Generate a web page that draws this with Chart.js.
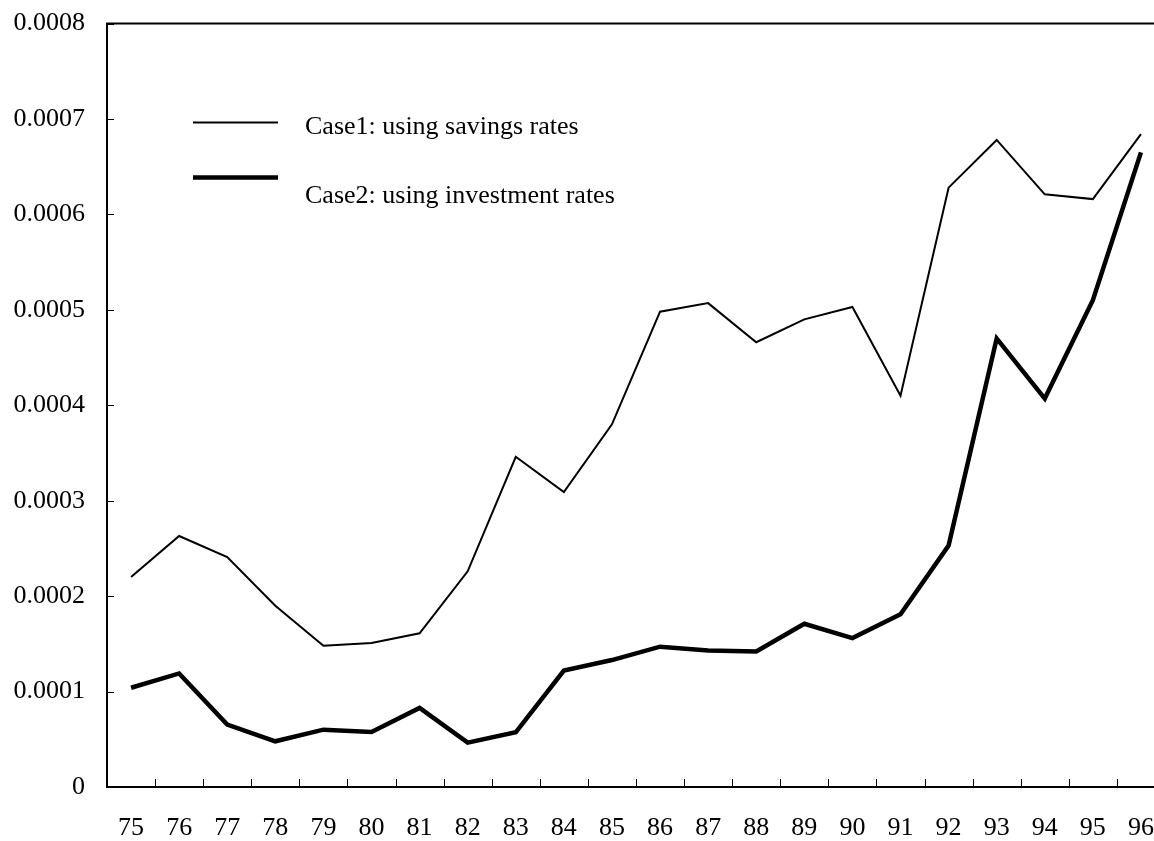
<!DOCTYPE html>
<html>
<head>
<meta charset="utf-8">
<script src="https://cdn.jsdelivr.net/npm/chart.js@4/dist/chart.umd.min.js"></script>
<style>
  html, body { margin: 0; padding: 0; overflow: hidden; background: #fff; }
  #wrap { width: 1166px; height: 841px; }
</style>
</head>
<body>
<div id="wrap"><canvas id="rateChart" width="1166" height="841"></canvas></div>
<script>
// anos (75..96)
const years = ['75','76','77','78','79','80','81','82','83','84','85','86','87','88','89','90','91','92','93','94','95','96'];

// Case1: taxas de poupanca
const savingsCase = [0.000220, 0.000263, 0.000241, 0.000190, 0.000148, 0.000151, 0.000161, 0.000226, 0.000346, 0.000309, 0.000380,
    0.000498, 0.000507, 0.000466, 0.000490, 0.000503, 0.000410, 0.000628, 0.000678, 0.000621, 0.000616, 0.000684];

// Case2: taxas de investimento
const investmentCase = [0.000104, 0.000119, 0.0000654, 0.0000479, 0.0000601, 0.0000577, 0.0000828, 0.0000465, 0.0000573, 0.000122, 0.000133,
    0.000147, 0.000143, 0.000142, 0.000171, 0.000156, 0.000181, 0.000253, 0.000470, 0.000407, 0.000510, 0.000665];

const yTickLabels = ['0', '0.0001', '0.0002', '0.0003', '0.0004', '0.0005', '0.0006', '0.0007', '0.0008'];

const serif = 'Liberation Serif';

// ticks para dentro + linha de cima + legenda
const framePlugin = {
    id: 'frame',
    afterDraw(chart) {
        const ctx = chart.ctx;
        const area = chart.chartArea;
        const x = chart.scales.x;
        const y = chart.scales.y;
        ctx.save();
        ctx.strokeStyle = '#000';

        // linha de cima
        ctx.lineWidth = 2;
        ctx.beginPath();
        ctx.moveTo(area.left - 1, area.top);
        ctx.lineTo(chart.width, area.top);
        ctx.stroke();

        ctx.lineWidth = 1;
        ctx.beginPath();
        y.ticks.forEach((t, i) => {
            const py = Math.round(y.getPixelForTick(i)) + 0.5;
            ctx.moveTo(area.left, py);
            ctx.lineTo(area.left + 7, py);
        });
        for (let i = 1; i < years.length; i++) {
            const px = Math.round((x.getPixelForValue(i - 1) + x.getPixelForValue(i)) / 2) + 0.5;
            ctx.moveTo(px, area.bottom);
            ctx.lineTo(px, area.bottom - 8);
        }
        ctx.stroke();

        // legenda
        const rows = [
            { lineY: 122.5, textY: 134 },
            { lineY: 177.5, textY: 203 }
        ];
        ctx.font = '26px "' + serif + '"';
        ctx.fillStyle = '#000';
        ctx.textBaseline = 'alphabetic';
        chart.data.datasets.forEach((ds, i) => {
            ctx.lineWidth = ds.borderWidth;
            ctx.beginPath();
            ctx.moveTo(193, rows[i].lineY);
            ctx.lineTo(278, rows[i].lineY);
            ctx.stroke();
            ctx.fillText(ds.label, 305, rows[i].textY);
        });
        ctx.restore();
    }
};

const ctxRate = document.getElementById('rateChart').getContext('2d');
const rateChart = new Chart(ctxRate, {
    type: 'line',
    data: {
        labels: years,
        datasets: [{
            label: 'Case1: using savings rates',
            data: savingsCase,
            borderColor: '#000',
            borderWidth: 2,
            pointRadius: 0,
            tension: 0,
            fill: false
        }, {
            label: 'Case2: using investment rates',
            data: investmentCase,
            borderColor: '#000',
            borderWidth: 4.5,
            pointRadius: 0,
            tension: 0,
            fill: false
        }]
    },
    options: {
        responsive: false,
        animation: false,
        events: [],
        layout: { padding: { top: 23.5, right: 1, left: 0, bottom: 0 } },
        plugins: {
            legend: { display: false },
            tooltip: { enabled: false }
        },
        scales: {
            x: {
                type: 'category',
                offset: true,
                grid: { display: false, drawTicks: false },
                border: { display: true, color: '#000', width: 2 },
                ticks: {
                    color: '#000',
                    padding: 26,
                    maxRotation: 0,
                    autoSkip: false,
                    font: { family: serif, size: 26 }
                },
                afterFit(scale) {
                    scale.height = 54;
                    scale.paddingLeft = 0;
                    scale.paddingRight = 0;
                }
            },
            y: {
                min: 0,
                max: 0.0008,
                grid: { display: false, drawTicks: false },
                border: { display: true, color: '#000', width: 2 },
                ticks: {
                    stepSize: 0.0001,
                    color: '#000',
                    padding: 22,
                    font: { family: serif, size: 26 },
                    callback: (v, i) => yTickLabels[i]
                },
                afterFit(scale) {
                    scale.width = 107;
                    scale.paddingTop = 0;
                    scale.paddingBottom = 0;
                }
            }
        }
    },
    plugins: [framePlugin]
});
</script>
</body>
</html>
